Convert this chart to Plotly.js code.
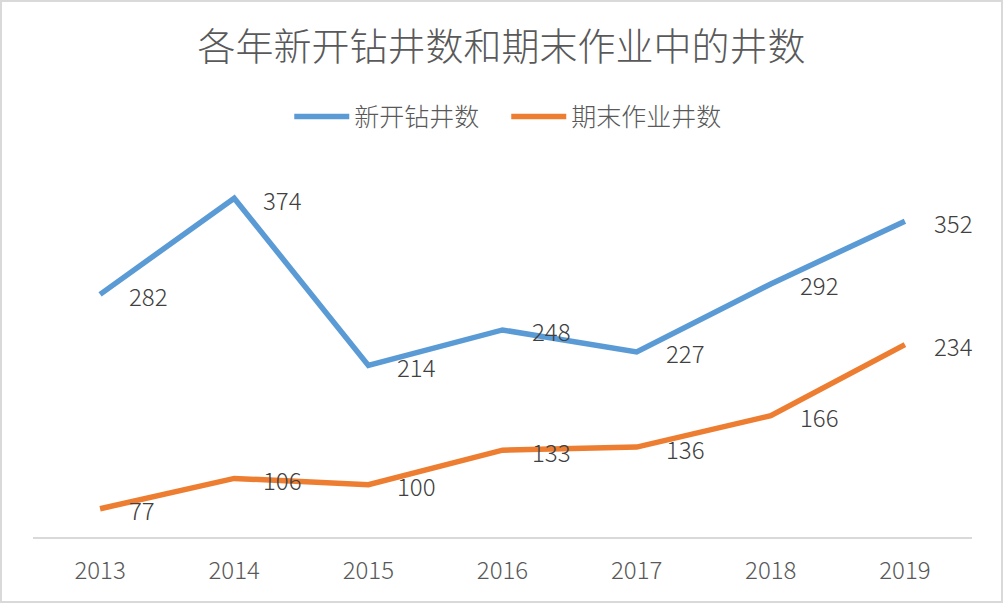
<!DOCTYPE html>
<html><head><meta charset="utf-8">
<script src="https://cdn.plot.ly/plotly-3.0.1.min.js"></script>
<style>html,body{margin:0;padding:0;background:#fff}#wrap{width:1003px;height:603px;box-sizing:border-box;border:2px solid #d9d9d9;position:relative;overflow:hidden}#chart{position:absolute;left:-2px;top:-2px;width:1003px;height:603px}</style>
</head><body><div id="wrap"><div id="chart"></div></div>
<script>
const years = ['2013','2014','2015','2016','2017','2018','2019'];
const newWells = [282, 374, 214, 248, 227, 292, 352];
const activeWells = [77, 106, 100, 133, 136, 166, 234];
const seriesNames = ['新开钻井数', '期末作业井数'];
const chartTitle = '各年新开钻井数和期末作业中的井数';

const font = '"Noto Sans CJK SC", "Open Sans", sans-serif';
const colors = ['#5B9BD5', '#ED7D31'];
const idx = years.map((_, i) => i);

const traces = [newWells, activeWells].map((vals, k) => ({
  x: idx, y: vals, type: 'scatter', mode: 'lines', name: seriesNames[k],
  line: {color: colors[k], width: 5.5}, hoverinfo: 'skip'
}));

const annotations = [];
[newWells, activeWells].forEach(vals => {
  vals.forEach((v, i) => annotations.push({
    x: i, y: v, xref: 'x', yref: 'y', text: String(v), showarrow: false,
    xanchor: 'left', yanchor: 'middle', xshift: 27, yshift: -1,
    font: {family: font, size: 24, color: '#404040', weight: 300}
  }));
});

const layout = {
  width: 1003, height: 603,
  margin: {l: 33, r: 31, t: 171, b: 66},
  paper_bgcolor: 'rgba(0,0,0,0)', plot_bgcolor: 'rgba(0,0,0,0)',
  title: {text: chartTitle, x: 0.5, xanchor: 'center', y: 0.922, yanchor: 'middle',
    font: {family: font, size: 38, color: '#595959', weight: 300}},
  showlegend: true,
  legend: {orientation: 'h', x: 0.504, xanchor: 'center', y: 1.148, yanchor: 'middle',
    entrywidth: 147, entrywidthmode: 'pixels',
    font: {family: font, size: 25, color: '#595959', weight: 300}, itemwidth: 55, traceorder: 'normal',
    itemclick: false},
  xaxis: {range: [-0.5, 6.5], tickmode: 'array', tickvals: idx, ticktext: years,
    showgrid: false, zeroline: false, showline: true, linecolor: '#d9d9d9', linewidth: 2,
    ticks: '', ticklabelstandoff: 11, tickfont: {family: font, size: 24, color: '#595959', weight: 300}, ticklen: 0, fixedrange: true},
  yaxis: {range: [50, 400], visible: false, showgrid: false, zeroline: false, fixedrange: true},
  annotations: annotations
};
Plotly.newPlot('chart', traces, layout, {displayModeBar: false, staticPlot: true});
</script></body></html>
